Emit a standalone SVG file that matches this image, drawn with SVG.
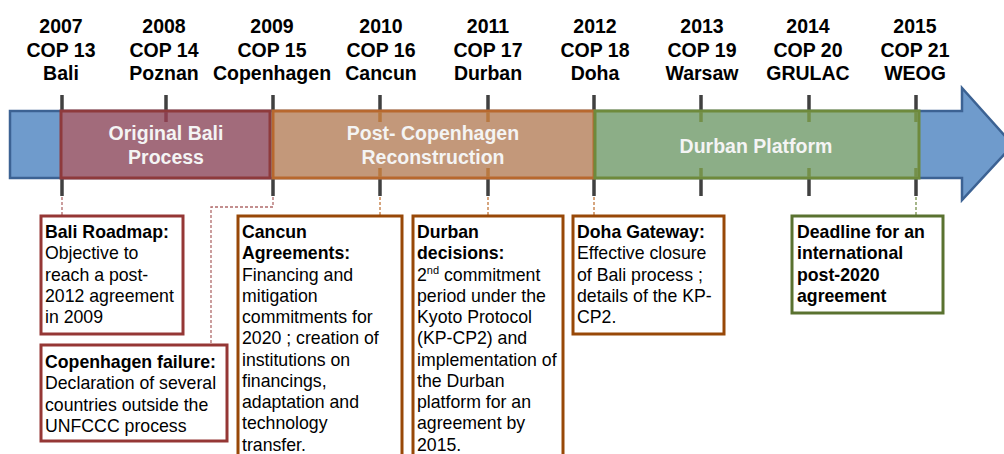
<svg xmlns="http://www.w3.org/2000/svg" width="1004" height="454" viewBox="0 0 1004 454">
<style>
.yr{font-family:"Liberation Sans",Arial,sans-serif;font-weight:bold;font-size:19.5px;fill:#000;text-anchor:middle}
.bl{font-family:"Liberation Sans",Arial,sans-serif;font-weight:bold;font-size:19.5px;fill:#F4F4F4;text-anchor:middle}
.bx{font-family:"Liberation Sans",Arial,sans-serif;font-size:17.7px;fill:#000}
.b{font-weight:bold}
.tick{stroke:#404040;stroke-width:3.5}
.red{fill:#fff;stroke:#953735;stroke-width:3}
.org{fill:#fff;stroke:#984807;stroke-width:3}
.grn{fill:#fff;stroke:#5A7230;stroke-width:3}
.dr{fill:none;stroke:#B06A6A;stroke-width:1.3;stroke-dasharray:3 2}
.do{fill:none;stroke:#C0763A;stroke-width:1.3;stroke-dasharray:3 2}
.dg{fill:none;stroke:#76904A;stroke-width:1.3;stroke-dasharray:3 2}
</style>
<rect width="1004" height="454" fill="#fff"/>
<g id="years">
<text class="yr" x="61" y="33">2007<tspan x="61" dy="23.7">COP 13</tspan><tspan x="61" dy="23.7">Bali</tspan></text>
<text class="yr" x="164" y="33">2008<tspan x="164" dy="23.7">COP 14</tspan><tspan x="164" dy="23.7">Poznan</tspan></text>
<text class="yr" x="272" y="33">2009<tspan x="272" dy="23.7">COP 15</tspan><tspan x="272" dy="23.7">Copenhagen</tspan></text>
<text class="yr" x="381" y="33">2010<tspan x="381" dy="23.7">COP 16</tspan><tspan x="381" dy="23.7">Cancun</tspan></text>
<text class="yr" x="488" y="33">2011<tspan x="488" dy="23.7">COP 17</tspan><tspan x="488" dy="23.7">Durban</tspan></text>
<text class="yr" x="595" y="33">2012<tspan x="595" dy="23.7">COP 18</tspan><tspan x="595" dy="23.7">Doha</tspan></text>
<text class="yr" x="702" y="33">2013<tspan x="702" dy="23.7">COP 19</tspan><tspan x="702" dy="23.7">Warsaw</tspan></text>
<text class="yr" x="808" y="33">2014<tspan x="808" dy="23.7">COP 20</tspan><tspan x="808" dy="23.7">GRULAC</tspan></text>
<text class="yr" x="915" y="33">2015<tspan x="915" dy="23.7">COP 21</tspan><tspan x="915" dy="23.7">WEOG</tspan></text>
</g>
<g id="ticks">
<line class="tick" x1="62" y1="95" x2="62" y2="196"/>
<line class="tick" x1="166" y1="95" x2="166" y2="112"/>
<line class="tick" x1="273" y1="95" x2="273" y2="196"/>
<line class="tick" x1="380" y1="95" x2="380" y2="196"/>
<line class="tick" x1="488" y1="95" x2="488" y2="196"/>
<line class="tick" x1="594" y1="95" x2="594" y2="196"/>
<line class="tick" x1="701" y1="95" x2="701" y2="196"/>
<line class="tick" x1="809" y1="95" x2="809" y2="196"/>
<line class="tick" x1="916" y1="95" x2="916" y2="196"/>
</g>
<g id="arrow">
<polygon points="10,111 962,111 962,88 1013,145 962,200 962,178 10,178" fill="#6F9BCC" stroke="#3C6293" stroke-width="2.5" stroke-linejoin="miter"/>
</g>
<g id="bar-bali">
<rect x="61" y="111" width="209" height="67" fill="#A26B7B" stroke="#8E3A3C" stroke-width="3"/>
<line x1="166" y1="112" x2="166" y2="122" stroke="#8A4050" stroke-width="3.5"/>
<text class="bl" x="166" y="140">Original Bali<tspan x="166" dy="24">Process</tspan></text>
</g>
<g id="bar-postcop">
<rect x="273" y="111" width="321" height="67" fill="#C3987A" stroke="#B8682E" stroke-width="3"/>
<line x1="380" y1="112" x2="380" y2="122" stroke="#B87840" stroke-width="3.5"/>
<line x1="380" y1="168" x2="380" y2="177" stroke="#B87840" stroke-width="3.5"/>
<line x1="488" y1="112" x2="488" y2="122" stroke="#B87840" stroke-width="3.5"/>
<line x1="488" y1="168" x2="488" y2="177" stroke="#B87840" stroke-width="3.5"/>
<text class="bl" x="433" y="140">Post- Copenhagen<tspan x="433" dy="24">Reconstruction</tspan></text>
</g>
<g id="bar-durban">
<rect x="595" y="111" width="324" height="67" fill="#8CAE87" stroke="#6E8A3C" stroke-width="3"/>
<line x1="701" y1="112" x2="701" y2="122" stroke="#74904A" stroke-width="3.5"/>
<line x1="701" y1="168" x2="701" y2="177" stroke="#74904A" stroke-width="3.5"/>
<line x1="809" y1="112" x2="809" y2="122" stroke="#74904A" stroke-width="3.5"/>
<line x1="809" y1="168" x2="809" y2="177" stroke="#74904A" stroke-width="3.5"/>
<line x1="916" y1="112" x2="916" y2="122" stroke="#74904A" stroke-width="3.5"/>
<line x1="916" y1="168" x2="916" y2="177" stroke="#74904A" stroke-width="3.5"/>
<text class="bl" x="756" y="153">Durban Platform</text>
</g>
<g id="connectors">
<path class="dr" d="M62,197 V215"/>
<path class="dr" d="M273,197 V207 H211 V343"/>
<path class="do" d="M380,197 V215"/>
<path class="do" d="M488,197 V215"/>
<path class="do" d="M594,197 V215"/>
<path class="dg" d="M916,197 V215"/>
</g>
<g id="box-bali-roadmap">
<rect class="red" x="41" y="216" width="142" height="118"/>
<text class="bx" x="45" y="238"><tspan class="b">Bali Roadmap:</tspan><tspan x="45" dy="21.25">Objective to</tspan><tspan x="45" dy="21.25">reach a post-</tspan><tspan x="45" dy="21.25">2012 agreement</tspan><tspan x="45" dy="21.25">in 2009</tspan></text>
</g>
<g id="box-copenhagen">
<rect class="red" x="41" y="345" width="186" height="96"/>
<text class="bx" x="45" y="368"><tspan class="b">Copenhagen failure:</tspan><tspan x="45" dy="21.25">Declaration of several</tspan><tspan x="45" dy="21.25">countries outside the</tspan><tspan x="45" dy="21.25">UNFCCC process</tspan></text>
</g>
<g id="box-cancun">
<rect class="org" x="238" y="216" width="164" height="250"/>
<text class="bx" x="242" y="238"><tspan class="b">Cancun</tspan><tspan class="b" x="242" dy="21.25">Agreements:</tspan><tspan x="242" dy="21.25">Financing and</tspan><tspan x="242" dy="21.25">mitigation</tspan><tspan x="242" dy="21.25">commitments for</tspan><tspan x="242" dy="21.25">2020 ; creation of</tspan><tspan x="242" dy="21.25">institutions on</tspan><tspan x="242" dy="21.25">financings,</tspan><tspan x="242" dy="21.25">adaptation and</tspan><tspan x="242" dy="21.25">technology</tspan><tspan x="242" dy="21.25">transfer.</tspan></text>
</g>
<g id="box-durban">
<rect class="org" x="413" y="216" width="150" height="250"/>
<text class="bx" x="417" y="238"><tspan class="b">Durban</tspan><tspan class="b" x="417" dy="21.25">decisions:</tspan><tspan x="417" dy="21.25">2</tspan><tspan font-size="11" dy="-7">nd</tspan><tspan dy="7"> commitment</tspan><tspan x="417" dy="21.25">period under the</tspan><tspan x="417" dy="21.25">Kyoto Protocol</tspan><tspan x="417" dy="21.25">(KP-CP2) and</tspan><tspan x="417" dy="21.25">implementation of</tspan><tspan x="417" dy="21.25">the Durban</tspan><tspan x="417" dy="21.25">platform for an</tspan><tspan x="417" dy="21.25">agreement by</tspan><tspan x="417" dy="21.25">2015.</tspan></text>
</g>
<g id="box-doha">
<rect class="org" x="573" y="216" width="151" height="118"/>
<text class="bx" x="577" y="238"><tspan class="b">Doha Gateway:</tspan><tspan x="577" dy="21.25">Effective closure</tspan><tspan x="577" dy="21.25">of Bali process ;</tspan><tspan x="577" dy="21.25">details of the KP-</tspan><tspan x="577" dy="21.25">CP2.</tspan></text>
</g>
<g id="box-deadline">
<rect class="grn" x="792" y="216" width="151" height="97"/>
<text class="bx b" x="797" y="238">Deadline for an<tspan x="797" dy="21.25">international</tspan><tspan x="797" dy="21.25">post-2020</tspan><tspan x="797" dy="21.25">agreement</tspan></text>
</g>
</svg>
